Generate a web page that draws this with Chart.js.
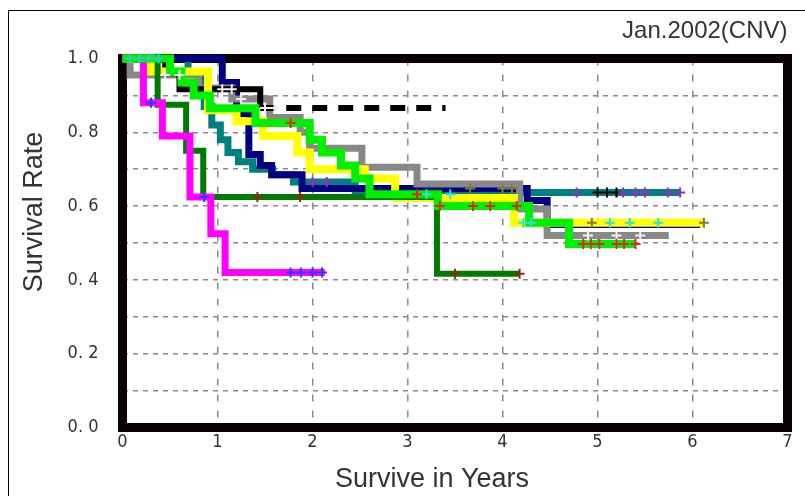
<!DOCTYPE html>
<html lang="en">
<head>
<meta charset="UTF-8" />
<title>Survival Rate</title>
<script src="https://cdn.jsdelivr.net/npm/chart.js@4.4.1/dist/chart.umd.min.js"></script>
<style>
  html, body { margin: 0; padding: 0; background: #fff; }
  #wrap { position: relative; width: 805px; height: 496px; overflow: hidden; }
  #edge { position: absolute; left: 8px; top: 10px; width: 900px; height: 600px;
          border-left: 1px solid #000; border-top: 1px solid #000; }
  canvas { position: absolute; left: 0; top: 0; }
</style>
</head>
<body>
<div id="wrap">
  <div id="edge"></div>
  <canvas id="myChart" width="805" height="496"></canvas>
</div>
<script>
// texts
const chartTitle = "Jan.2002(CNV)";
const xTitle = "Survive in Years";
const yTitle = "Survival Rate";
const xTickLabels = ["0", "1", "2", "3", "4", "5", "6", "7"];
const yTickLabels = ["0. 0", "0. 2", "0. 4", "0. 6", "0. 8", "1. 0"];

// Kaplan-Meier curves: time (years) where survival becomes the value
const limeT = [0, 0.5, 0.62, 0.75, 0.92, 1.4, 1.97, 2.1, 2.3, 2.45, 2.6, 3.32, 4.28, 4.7, 5.4];
const limeS = [1, 0.965, 0.935, 0.9, 0.865, 0.825, 0.78, 0.745, 0.71, 0.675, 0.632, 0.6, 0.555, 0.497, 0.497];
const magentaT = [0, 0.22, 0.42, 0.71, 0.93, 1.08, 2.13];
const magentaS = [1, 0.88, 0.79, 0.625, 0.525, 0.42, 0.42];
const darkGreenT = [0, 0.37, 0.67, 0.85, 3.31, 4.18];
const darkGreenS = [1, 0.875, 0.75, 0.625, 0.417, 0.417];
const yellowT = [0, 0.3, 0.9, 1.2, 1.48, 1.84, 1.97, 2.55, 2.87, 4.12, 6.11];
const yellowS = [1, 0.965, 0.86, 0.83, 0.79, 0.745, 0.7, 0.675, 0.622, 0.555, 0.555];
const blackT = [0, 0.45, 0.6, 1.45, 3.4];
const blackS = [1, 0.96, 0.917, 0.866, 0.866];
const grayT = [0, 0.08, 0.8, 1.15, 1.55, 1.87, 1.97, 2.52, 3.1, 4.18, 4.47, 5.75];
const grayS = [1, 0.955, 0.92, 0.89, 0.84, 0.8, 0.757, 0.705, 0.66, 0.592, 0.52, 0.52];
const navyT = [0, 1.05, 1.2, 1.33, 1.45, 1.57, 1.89, 4.26, 4.47, 6.08];
const navyS = [1, 0.935, 0.85, 0.74, 0.71, 0.685, 0.648, 0.615, 0.55, 0.55];
const tealT = [0, 0.69, 0.86, 0.94, 1.03, 1.11, 1.22, 1.37, 1.58, 1.8, 2.45, 5.87];
const tealS = [1, 0.965, 0.87, 0.82, 0.78, 0.745, 0.72, 0.7, 0.685, 0.665, 0.637, 0.637];

// censored cases [years, survival]
const startCensor = [[0.08, 1], [0.18, 1], [0.28, 1], [0.38, 1]];
const limeCensor = [[1.77, 0.825], [3.1, 0.632], [3.34, 0.6], [3.69, 0.6], [3.87, 0.6], [4.15, 0.6],
  [4.85, 0.497], [4.93, 0.497], [5.02, 0.497], [5.2, 0.497], [5.28, 0.497], [5.4, 0.497]];
const magentaCensor = [[0.3, 0.88], [0.86, 0.625], [1.77, 0.42], [1.88, 0.42], [2.0, 0.42], [2.1, 0.42]];
const darkGreenCensor = [[1.42, 0.625], [1.87, 0.625], [3.5, 0.417], [4.18, 0.417]];
const yellowCensor = [[3.2, 0.632], [3.45, 0.632], [4.22, 0.555], [4.3, 0.555], [5.13, 0.555], [5.34, 0.555], [5.64, 0.555]];
const navyCensor = [[3.66, 0.648], [4.0, 0.648], [4.1, 0.648], [4.94, 0.555], [6.12, 0.555]];
const tealCensor = [[2.0, 0.665], [2.15, 0.665], [4.78, 0.637], [5.27, 0.637], [5.4, 0.637], [5.5, 0.637], [5.74, 0.637], [5.87, 0.637]];
const blackCensor = [[5.0, 0.637], [5.1, 0.637], [5.2, 0.637]];
const whiteCensor = [[0.45, 0.955], [0.6, 0.955], [1.05, 0.917], [1.15, 0.917], [1.25, 0.89],
  [1.5, 0.866], [1.6, 0.866], [4.9, 0.52], [5.2, 0.52], [5.45, 0.52]];

const tickFont = { family: "'Liberation Sans Narrow', 'DejaVu Sans Condensed', 'Liberation Sans', sans-serif", size: 18 };
const textFamily = "'Liberation Sans', Arial, sans-serif";

function steps(t, s) {
  return t.map((x, i) => ({ x: x, y: s[i] }));
}

function curve(label, t, s, color, width, extra) {
  return Object.assign({
    label: label,
    data: steps(t, s),
    borderColor: color,
    backgroundColor: color,
    borderWidth: width,
    stepped: true,
    pointRadius: 0,
    fill: false,
    clip: false,
    borderJoinStyle: "miter",
    borderCapStyle: "butt",
  }, extra || {});
}

function censor(label, pts, color) {
  return {
    label: label,
    data: pts.map(([x, y]) => ({ x: x, y: y })),
    showLine: false,
    pointStyle: "cross",
    pointRadius: 5,
    pointBorderWidth: 2,
    pointBorderColor: color,
    borderColor: color,
    backgroundColor: color,
    clip: false,
  };
}

// thick black frame round the plot, under the curves
const frame = {
  id: "frame",
  beforeDatasetsDraw(chart) {
    const { ctx, chartArea: a } = chart;
    ctx.save();
    ctx.strokeStyle = "#0a0000";
    ctx.lineWidth = 9;
    ctx.strokeRect(a.left, a.top, a.right - a.left, a.bottom - a.top);
    ctx.restore();
  },
};

const axisTitles = {
  id: "axisTitles",
  afterDraw(chart) {
    const ctx = chart.ctx;
    ctx.save();
    ctx.fillStyle = "#333";
    ctx.font = "27px " + textFamily;
    ctx.textAlign = "center";
    ctx.textBaseline = "middle";
    ctx.fillText(xTitle, 432, 480);
    ctx.translate(35, 212);
    ctx.rotate(-Math.PI / 2);
    ctx.fillText(yTitle, 0, 0);
    ctx.restore();
  },
};

const ctx = document.getElementById("myChart").getContext("2d");
new Chart(ctx, {
  type: "line",
  data: {
    datasets: [
      censor("censor-start", startCensor, "#30c8c8"),
      censor("censor-lime", limeCensor, "#e02818"),
      censor("censor-magenta", magentaCensor, "#2a3cff"),
      censor("censor-darkgreen", darkGreenCensor, "#8b2a10"),
      censor("censor-yellow", yellowCensor, "#30e0e0"),
      censor("censor-navy", navyCensor, "#8a7a30"),
      censor("censor-teal", tealCensor, "#9030c0"),
      censor("censor-black", blackCensor, "#000000"),
      censor("censor-white", whiteCensor, "#f0f0f0"),
      curve("lime", limeT, limeS, "#00f000", 8),
      curve("magenta", magentaT, magentaS, "#ff00ff", 7),
      curve("darkgreen", darkGreenT, darkGreenS, "#007a00", 6),
      curve("yellow", yellowT, yellowS, "#ffff00", 8),
      curve("black", blackT, blackS, "#000000", 6, {
        segment: { borderDash: (c) => (c.p0.parsed.x >= 1.4 ? [15, 11] : undefined) },
      }),
      curve("gray", grayT, grayS, "#888888", 7),
      curve("navy", navyT, navyS, "#000080", 7),
      curve("teal", tealT, tealS, "#008080", 7),
    ],
  },
  options: {
    responsive: false,
    animation: false,
    devicePixelRatio: 1,
    events: [],
    layout: { padding: { left: 0, right: 17.5, top: 0, bottom: 0 } },
    plugins: {
      legend: { display: false },
      tooltip: { enabled: false },
      title: {
        display: true,
        text: chartTitle,
        align: "end",
        color: "#333",
        font: { family: textFamily, size: 24, weight: "normal" },
        padding: { top: 17, bottom: 12.7 },
      },
    },
    scales: {
      x: {
        type: "linear",
        min: 0,
        max: 7,
        ticks: {
          stepSize: 1,
          padding: 4,
          color: "#333",
          font: tickFont,
          callback: (v) => xTickLabels[Math.round(v)],
        },
        grid: { color: "#8a8a8a", lineWidth: 1.5, drawTicks: false },
        border: { display: false, dash: [7, 9] },
        afterFit: (s) => { s.height = 68.5; },
      },
      y: {
        min: 0,
        max: 1,
        ticks: {
          stepSize: 0.1,
          autoSkip: false,
          padding: 24,
          color: "#333",
          font: tickFont,
          callback: (v) => {
            const k = Math.round(v * 10);
            return k % 2 === 0 ? yTickLabels[k / 2] : "";
          },
        },
        grid: { color: "#8a8a8a", lineWidth: 1.5, drawTicks: false },
        border: { display: false, dash: [5, 5] },
        afterFit: (s) => { s.width = 122.5; },
      },
    },
  },
  plugins: [frame, axisTitles],
});
</script>
</body>
</html>
